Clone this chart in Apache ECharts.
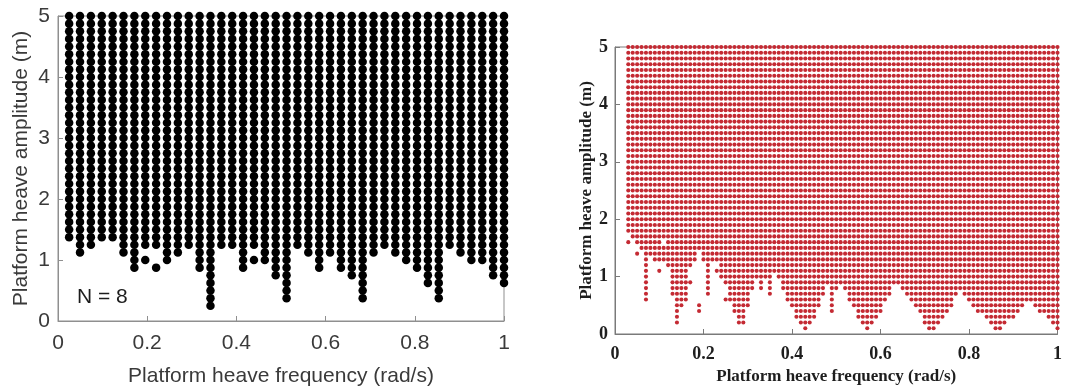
<!DOCTYPE html>
<html>
<head>
<meta charset="utf-8">
<title>Platform heave frequency vs amplitude</title>
<script src="https://cdn.jsdelivr.net/npm/echarts@6/dist/echarts.min.js"></script>
<style>
  html, body { margin: 0; padding: 0; background: #ffffff; }
  #chart { width: 1065px; height: 392px; }
</style>
</head>
<body>
<div id="chart"></div>
<script>
// ---- Left panel (N = 8): frequency columns and amplitude levels ----
const leftFreqs = [0.025, 0.049375, 0.07375, 0.098125, 0.1225, 0.146875, 0.17125, 0.195625,
  0.22, 0.244375, 0.26875, 0.293125, 0.3175, 0.341875, 0.36625, 0.390625, 0.415, 0.439375,
  0.46375, 0.488125, 0.5125, 0.536875, 0.56125, 0.585625, 0.61, 0.634375, 0.65875, 0.683125,
  0.7075, 0.731875, 0.75625, 0.780625, 0.805, 0.829375, 0.85375, 0.878125, 0.9025, 0.926875,
  0.95125, 0.975625, 1.0];
const leftAmps = [0.125, 0.25, 0.375, 0.5, 0.625, 0.75, 0.875, 1, 1.125, 1.25, 1.375, 1.5,
  1.625, 1.75, 1.875, 2, 2.125, 2.25, 2.375, 2.5, 2.625, 2.75, 2.875, 3, 3.125, 3.25, 3.375,
  3.5, 3.625, 3.75, 3.875, 4, 4.125, 4.25, 4.375, 4.5, 4.625, 4.75, 4.875, 5];
// lowest amplitude of the continuous block in each column
const leftLowest = [1.375, 1.125, 1.25, 1.375, 1.375, 1.125, 0.875, 1.25, 1.25, 1.0, 1.125,
  1.25, 0.875, 0.25, 1.25, 1.25, 0.875, 1.25, 1.0, 0.75, 0.375, 1.25, 1.125, 0.875, 1.125,
  0.875, 0.75, 0.375, 1.125, 1.25, 1.125, 1.0, 0.875, 0.625, 0.375, 1.25, 1.125, 1.0, 1.0,
  0.75, 0.625];
// single points lying below their column
const leftIsolated = [[0.195625, 1.0], [0.22, 0.875], [0.439375, 1.0]];

// ---- Right panel: frequency columns and amplitude levels ----
const rightFreqs = [0.03, 0.04, 0.05, 0.06, 0.07, 0.08, 0.09, 0.10, 0.11, 0.12, 0.13, 0.14,
  0.15, 0.16, 0.17, 0.18, 0.19, 0.20, 0.21, 0.22, 0.23, 0.24, 0.25, 0.26, 0.27, 0.28, 0.29,
  0.30, 0.31, 0.32, 0.33, 0.34, 0.35, 0.36, 0.37, 0.38, 0.39, 0.40, 0.41, 0.42, 0.43, 0.44,
  0.45, 0.46, 0.47, 0.48, 0.49, 0.50, 0.51, 0.52, 0.53, 0.54, 0.55, 0.56, 0.57, 0.58, 0.59,
  0.60, 0.61, 0.62, 0.63, 0.64, 0.65, 0.66, 0.67, 0.68, 0.69, 0.70, 0.71, 0.72, 0.73, 0.74,
  0.75, 0.76, 0.77, 0.78, 0.79, 0.80, 0.81, 0.82, 0.83, 0.84, 0.85, 0.86, 0.87, 0.88, 0.89,
  0.90, 0.91, 0.92, 0.93, 0.94, 0.95, 0.96, 0.97, 0.98, 0.99, 1.00];
const rightAmps = [0.1, 0.2, 0.3, 0.4, 0.5, 0.6, 0.7, 0.8, 0.9, 1.0, 1.1, 1.2, 1.3, 1.4, 1.5,
  1.6, 1.7, 1.8, 1.9, 2.0, 2.1, 2.2, 2.3, 2.4, 2.5, 2.6, 2.7, 2.8, 2.9, 3.0, 3.1, 3.2, 3.3,
  3.4, 3.5, 3.6, 3.7, 3.8, 3.9, 4.0, 4.1, 4.2, 4.3, 4.4, 4.5, 4.6, 4.7, 4.8, 4.9, 5.0];
const rightLowest = [1.8, 1.7, 1.6, 1.5, 0.6, 1.4, 1.3, 1.3, 1.3, 1.2, 0.7, 0.2,
  0.5, 0.6, 1.2, 1.3, 1.5, 1.3, 0.7, 1.3, 1.3, 1.0, 0.9, 0.6, 0.4, 0.2, 0.2,
  0.5, 0.8, 1.0, 0.8, 1.0, 0.7, 1.1, 1.0, 0.8, 0.6, 0.5, 0.3, 0.2, 0.1, 0.2,
  0.3, 0.5, 0.7, 0.9, 0.4, 0.8, 0.9, 0.8, 0.6, 0.5, 0.3, 0.2, 0.1, 0.2, 0.3,
  0.4, 0.6, 0.7, 0.9, 0.9, 0.8, 0.7, 0.6, 0.5, 0.4, 0.2, 0.1, 0.1, 0.2, 0.3,
  0.4, 0.5, 0.7, 0.8, 0.7, 0.6, 0.5, 0.4, 0.4, 0.3, 0.2, 0.1, 0.1, 0.2, 0.3,
  0.3, 0.4, 0.5, 0.6, 0.6, 0.5, 0.4, 0.4, 0.3, 0.2, 0.1];
const rightIsolated = [[0.03, 1.6], [0.05, 1.4], [0.10, 1.1], [0.17, 0.9], [0.19, 0.5],
  [0.19, 0.4], [0.23, 1.1], [0.25, 0.6]];
const rightGaps = [[0.11, 1.6]];

// ---- grid builders ----
function columnPoints(freqs, amps, lowest, isolated, gaps) {
  const pts = [];
  const isGap = (f, a) => gaps.some(g => Math.abs(g[0] - f) < 1e-6 && Math.abs(g[1] - a) < 1e-6);
  freqs.forEach((f, i) => {
    amps.forEach(a => {
      if (a >= lowest[i] - 1e-6 && !isGap(f, a)) pts.push([f, a]);
    });
  });
  isolated.forEach(p => pts.push([p[0], p[1]]));
  return pts;
}

const leftData = columnPoints(leftFreqs, leftAmps, leftLowest, leftIsolated, []);
const rightData = columnPoints(rightFreqs, rightAmps, rightLowest, rightIsolated, rightGaps);

const sansFont = '"Liberation Sans", Arial, Helvetica, sans-serif';
const serifFont = '"Liberation Serif", "Times New Roman", serif';
const leftText = '#3a3a3a';
const leftLine = '#8f8f8f';
const rightText = '#1e1e1e';
const rightLine = '#7a7a7a';

function valueAxis(gridIndex, opts) {
  return Object.assign({
    type: 'value',
    gridIndex: gridIndex,
    splitLine: { show: false },
    axisTick: { show: true, inside: true, length: 5, lineStyle: { color: opts.line } },
    axisLine: { show: true, onZero: false, lineStyle: { color: opts.line, width: 1 } },
    axisLabel: {
      color: opts.text, fontFamily: opts.font, fontSize: opts.size,
      fontWeight: opts.weight, margin: opts.margin
    },
    nameLocation: 'middle',
    nameTextStyle: {
      color: opts.text, fontFamily: opts.font, fontSize: opts.nameSize,
      fontWeight: opts.weight
    }
  }, opts.extra);
}

const chart = echarts.init(document.getElementById('chart'), null, { renderer: 'canvas' });

chart.setOption({
  backgroundColor: '#ffffff',
  animation: false,
  grid: [
    { left: 58, right: 561, top: 16, bottom: 71, show: true, borderColor: leftLine, borderWidth: 1, backgroundColor: 'transparent' },
    { left: 615, right: 5, top: 47, bottom: 58, show: true, borderColor: rightLine, borderWidth: 1, backgroundColor: 'transparent' }
  ],
  xAxis: [
    valueAxis(0, { line: leftLine, text: leftText, font: sansFont, size: 21, nameSize: 21, weight: 'normal', margin: 12,
      extra: { min: 0, max: 1, interval: 0.2, name: 'Platform heave frequency (rad/s)', nameGap: 45 } }),
    valueAxis(1, { line: rightLine, text: rightText, font: serifFont, size: 18, nameSize: 17, weight: 'bold', margin: 11,
      extra: { min: 0, max: 1, interval: 0.2, name: 'Platform heave frequency (rad/s)', nameGap: 31 } })
  ],
  yAxis: [
    valueAxis(0, { line: leftLine, text: leftText, font: sansFont, size: 21, nameSize: 21, weight: 'normal', margin: 8,
      extra: { min: 0, max: 5, interval: 1, name: 'Platform heave amplitude (m)', nameGap: 26 } }),
    valueAxis(1, { line: rightLine, text: rightText, font: serifFont, size: 18, nameSize: 17, weight: 'bold', margin: 7,
      extra: { min: 0, max: 5, interval: 1, name: 'Platform heave amplitude (m)', nameGap: 20 } })
  ],
  graphic: [
    { type: 'text', left: 77, top: 287, z: 10,
      style: { text: 'N = 8', fill: '#1c1c1c', font: '21px ' + sansFont } }
  ],
  series: [
    {
      type: 'scatter', xAxisIndex: 0, yAxisIndex: 0, data: leftData,
      symbol: 'circle', symbolSize: 8.5, clip: false, silent: true,
      itemStyle: { color: '#000000', opacity: 1 }
    },
    {
      type: 'scatter', xAxisIndex: 1, yAxisIndex: 1, data: rightData,
      symbol: 'circle', symbolSize: 4.1, clip: false, silent: true, large: false,
      itemStyle: { color: '#c42a33', opacity: 1 }
    }
  ]
});
</script>
</body>
</html>
